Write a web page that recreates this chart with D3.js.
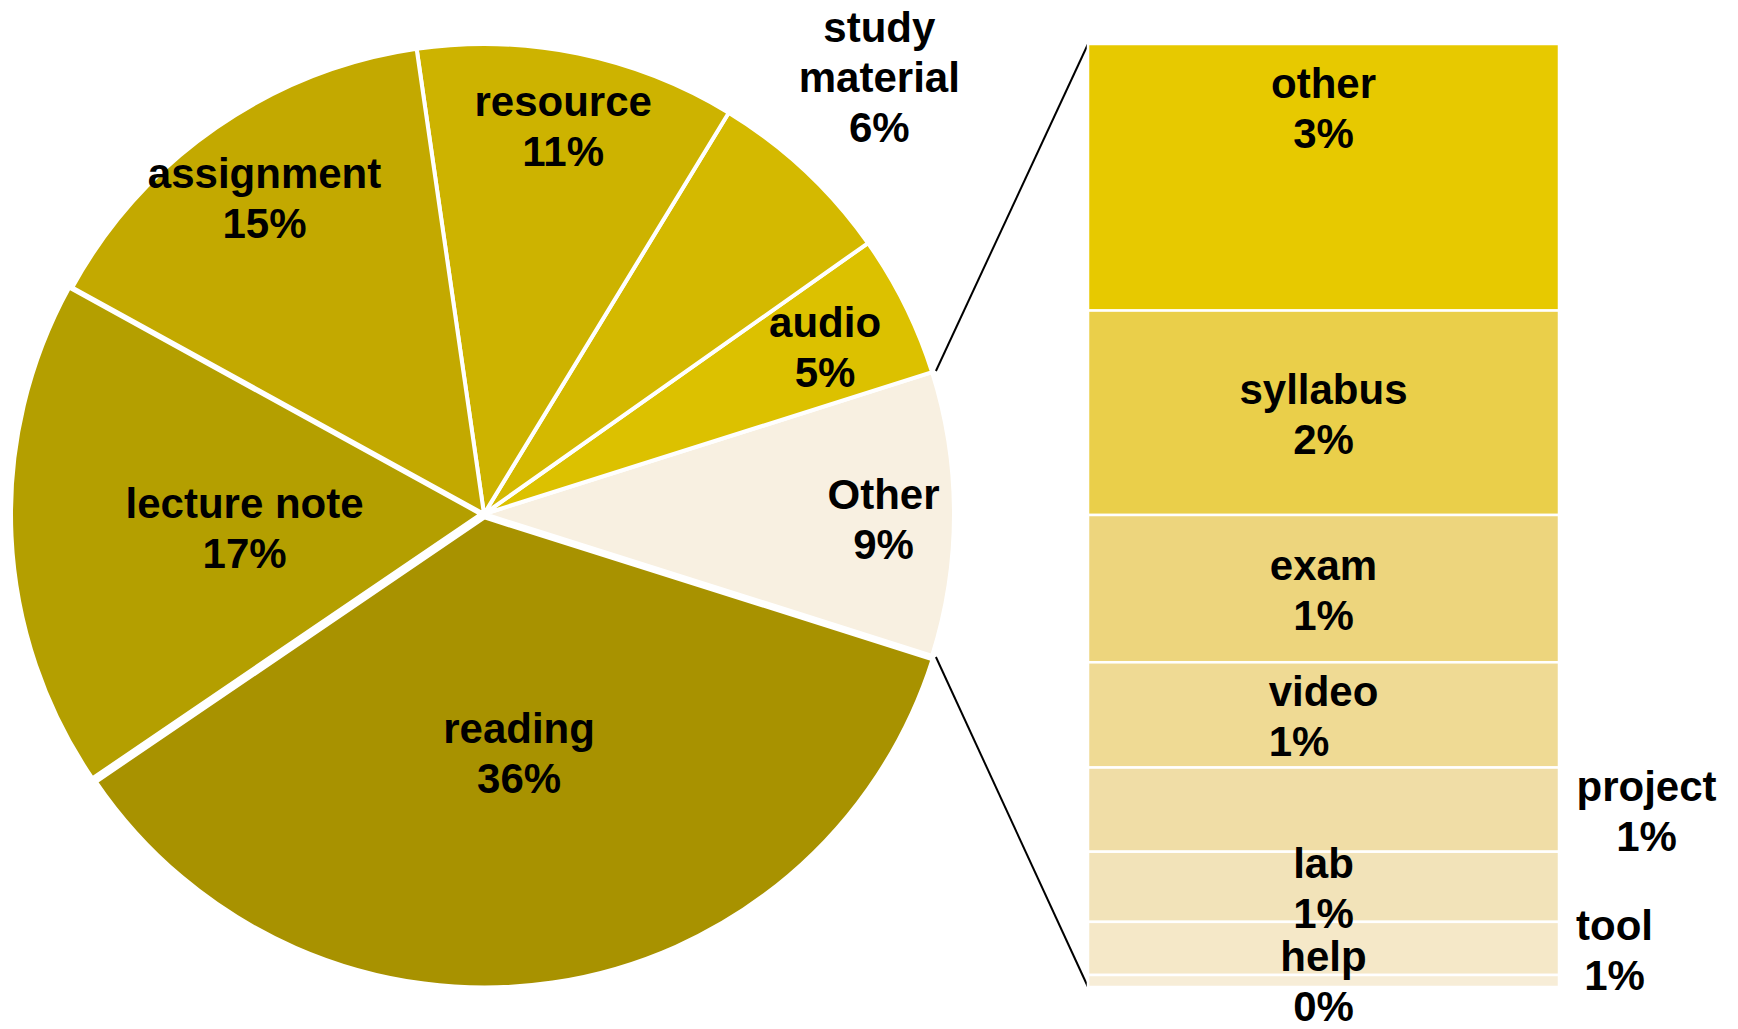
<!DOCTYPE html>
<html>
<head>
<meta charset="utf-8">
<script src="https://cdn.jsdelivr.net/npm/d3@7"></script>
<style>
  html, body { margin: 0; padding: 0; background: #fff; }
  svg text { font-family: "Liberation Sans", Arial, sans-serif; font-weight: bold; fill: #000; }
</style>
</head>
<body>
<svg id="chart" width="1738" height="1029"></svg>
<script>
// pie slices, counterclockwise starting from "Other" (centred on the right)
var pieNames = ["Other", "audio", "study material", "resource", "assignment", "lecture note", "reading"];
var pieShares = [9.75, 4.9, 6.5, 11.0, 14.7, 17.5, 35.6]; // share of the circle
var piePct = [9, 5, 6, 11, 15, 17, 36]; // percentages printed on the wedges
var pieColors = ["#f8f0e1", "#dcc100", "#d4b900", "#cdb300", "#c3a900", "#b49f00", "#a89200"];

// breakdown of "Other", top to bottom
var barNames = ["other", "syllabus", "exam", "video", "project", "lab", "tool", "help"];
var barShares = [2.66, 2.04, 1.47, 1.05, 0.84, 0.70, 0.53, 0.12];
var barColors = ["#e7c900", "#eacf4a", "#edd57d", "#efda94", "#f0dda6", "#f2e3b9", "#f5e8c8", "#f7edd7"];

var svg = d3.select("#chart");

// layout
var cx = 484, cy = 514, R = 470;
var lineH = 50;
var labelRadius = [0.85, 0.81, 1.25, 0.84, 0.82, 0.51, 0.515]; // fraction of R
var labelNudge = {"study material": [-6, -10], "resource": [0, -4], "assignment": [0, -2], "reading": [0, -3], "Other": [0, 2]};
var explode = [0, 0, 0, 0, 0, 3, 3.5];
var barX0 = 1088, barX1 = 1559, barTop = 44, barBottom = 987;

// multi-line label helper
function multiLabel(g, lines, x, y, align) {
	var t = g.append("text")
	.attr("font-size", 42)
	.attr("text-anchor", align === "left" ? "start" : "middle");
	var y0 = y - (lines.length - 1) * lineH / 2;
	lines.forEach(function(s, i) {
		t.append("tspan")
		.attr("x", x)
		.attr("y", y0 + i * lineH)
		.attr("dominant-baseline", "central")
		.text(s);
	});
	return t;
}

// ----- pie -----
var half = pieShares[0] / d3.sum(pieShares) * Math.PI; // half of Other's angle
var pie = d3.pie()
.sort(null)
.value(function(d) { return d; })
.startAngle(Math.PI / 2 + half)
.endAngle(Math.PI / 2 + half - 2 * Math.PI);

var arcs = pie(pieShares);
var arc = d3.arc().innerRadius(0).outerRadius(R);

var pieG = svg.append("g").attr("transform", "translate(" + cx + "," + cy + ")");

pieG.selectAll("path")
.data(arcs)
.enter().append("path")
.attr("transform", function(d, i) {
	var a = (d.startAngle + d.endAngle) / 2;
	return "translate(" + (Math.sin(a) * explode[i]) + "," + (-Math.cos(a) * explode[i]) + ")";
})
.attr("d", arc)
.attr("fill", function(d, i) { return pieColors[i]; })
.attr("stroke", "#fff")
.attr("stroke-width", 4)
.attr("stroke-linejoin", "round");

arcs.forEach(function(d, i) {
	var a = (d.startAngle + d.endAngle) / 2;
	var r = labelRadius[i] * R;
	var nudge = labelNudge[pieNames[i]] || [0, 0];
	var lines = pieNames[i] === "study material" ? ["study", "material"] : [pieNames[i]];
	lines.push(piePct[i] + "%");
	multiLabel(pieG, lines, Math.sin(a) * r + nudge[0], -Math.cos(a) * r + 3 + nudge[1]);
});

// ----- connecting lines -----
var aTop = arcs[0].endAngle, aBot = arcs[0].startAngle;
var conn = svg.append("g").attr("stroke", "#000").attr("stroke-width", 2);
conn.append("line")
.attr("x1", cx + Math.sin(aTop) * (R + 4)).attr("y1", cy - Math.cos(aTop) * (R + 4))
.attr("x2", barX0).attr("y2", barTop);
conn.append("line")
.attr("x1", cx + Math.sin(aBot) * (R + 4)).attr("y1", cy - Math.cos(aBot) * (R + 4))
.attr("x2", barX0).attr("y2", barBottom);

// ----- stacked bar -----
var total = d3.sum(barShares);
var y = d3.scaleLinear().domain([0, total]).range([barTop, barBottom]);
var cum = d3.cumsum(barShares);
var segs = barShares.map(function(v, i) { return {name: barNames[i], v: v, y0: cum[i] - v, y1: cum[i], i: i}; });

var barG = svg.append("g");
barG.selectAll("rect")
.data(segs)
.enter().append("rect")
.attr("x", barX0)
.attr("width", barX1 - barX0)
.attr("y", function(d) { return y(d.y0); })
.attr("height", function(d) { return y(d.y1) - y(d.y0); })
.attr("fill", function(d) { return barColors[d.i]; })
.attr("stroke", "#fff")
.attr("stroke-width", 2.5);

// label tweaks (where the reference puts them off-centre)
var barLabelShift = {other: {dx: 0, dy: -71}, project: {dx: 323, dy: 0}, tool: {dx: 291, dy: 0}, help: {dx: 0, dy: -1}};
var bx = (barX0 + barX1) / 2;

segs.forEach(function(d) {
	var s = barLabelShift[d.name] || {dx: 0, dy: 0};
	var lx = bx + s.dx, ly = (y(d.y0) + y(d.y1)) / 2 + 2 + s.dy;
	var lines = [d.name, Math.round(d.v) + "%"];
	if (d.name === "video") {
		// lines left-aligned in the reference
		var t = multiLabel(barG, lines, lx, ly);
		var w = t.select("tspan").node().getComputedTextLength();
		t.remove();
		multiLabel(barG, lines, lx - w / 2, ly, "left");
	} else {
		multiLabel(barG, lines, lx, ly);
	}
});
</script>
</body>
</html>
